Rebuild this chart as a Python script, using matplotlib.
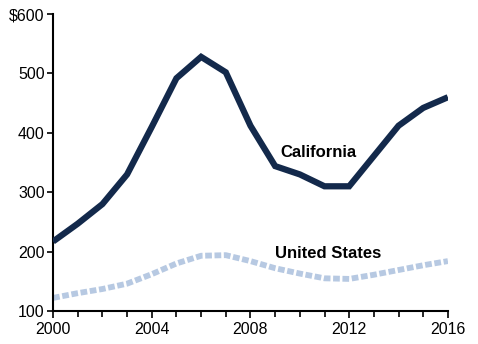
import matplotlib
matplotlib.use("Agg")
import matplotlib.pyplot as plt
from matplotlib.ticker import MultipleLocator

years = list(range(2000, 2017))
california = [217, 247, 280, 330, 410, 492, 528, 502, 412, 344, 330, 310, 310, 361, 412, 442, 460]
united_states = [122, 130, 137, 146, 162, 180, 193, 194, 184, 172, 163, 155, 154, 161, 169, 177, 184]
x_ticks = [2000, 2004, 2008, 2012, 2016]
y_ticks = [100, 200, 300, 400, 500, 600]
y_labels = ["100", "200", "300", "400", "500", "$600"]

plt.rcParams['font.family'] = ['Liberation Sans', 'DejaVu Sans']

fig = plt.figure(figsize=(4.78, 3.44), dpi=100)
ax = fig.add_axes([0.111, 0.096, 0.826, 0.863])

ax.plot(years, united_states, color="#b7c9e2", linewidth=4.2, linestyle=(0, (1.15, 0.45)),
        solid_capstyle="butt", dash_capstyle="butt", zorder=2)
ax.plot(years, california, color="#13294b", linewidth=4.5, solid_joinstyle="miter",
        solid_capstyle="butt", zorder=3)

ax.text(2010.77, 359, "California", fontsize=12, fontweight="bold", ha="center", va="baseline", color="black")
ax.text(2011.14, 189, "United States", fontsize=12, fontweight="bold", ha="center", va="baseline", color="black")

ax.set_xlim(2000, 2016)
ax.set_ylim(100, 600)
ax.set_xticks(x_ticks)
ax.xaxis.set_minor_locator(MultipleLocator(1))
ax.set_yticks(y_ticks)
ax.set_yticklabels(y_labels)

for s in ["top", "right"]:
    ax.spines[s].set_visible(False)
for s in ["left", "bottom"]:
    ax.spines[s].set_linewidth(1.5)
    ax.spines[s].set_color("black")

ax.tick_params(axis="x", which="major", direction="out", length=5, width=1.2, labelsize=11.5, pad=3)
ax.tick_params(axis="x", which="minor", direction="out", length=4, width=1.2)
ax.tick_params(axis="y", which="major", direction="out", length=4, width=1.2, labelsize=11.5, pad=2)

fig.savefig("out.png", dpi=100)
